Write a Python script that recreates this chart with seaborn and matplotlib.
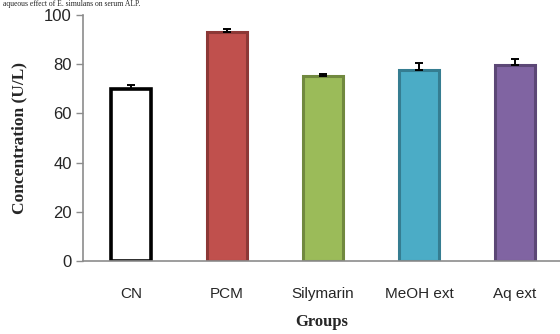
import matplotlib
matplotlib.use("Agg")
import matplotlib.pyplot as plt
import seaborn as sns
import pandas as pd

groups = ["CN", "PCM", "Silymarin", "MeOH ext", "Aq ext"]
means = [70.0, 93.0, 75.0, 77.5, 79.5]
errors = [1.5, 1.5, 1.0, 3.0, 2.8]
fills = ["#FFFFFF", "#C0504D", "#9BBB59", "#4BACC6", "#8064A2"]
edges = ["#000000", "#8C3836", "#71893F", "#357D91", "#5C4776"]
yticks = [0, 20, 40, 60, 80, 100]

sns.set_theme(style="white")
sans = ["Liberation Sans", "DejaVu Sans"]
serif = ["Liberation Serif", "DejaVu Serif"]

df = pd.DataFrame({"group": groups, "value": means})

fig = plt.figure(figsize=(5.6, 3.34), dpi=100)
ax = fig.add_axes([0.148, 0.219, 0.852, 0.736])

sns.barplot(data=df, x="group", y="value", hue="group", palette=fills,
            saturation=1, legend=False, errorbar=None, width=0.41, ax=ax,
            zorder=2)

for patch, ec in zip(ax.patches, edges):
    patch.set_edgecolor(ec)
    patch.set_linewidth(2.6 if ec == "#000000" else 2.2)

ax.errorbar(range(len(groups)), means, yerr=[[0] * len(groups), errors],
            fmt="none", ecolor="black", elinewidth=1.4, capsize=3,
            capthick=1.4, zorder=3)

ax.set_ylim(0, 100)
ax.set_xlim(-0.5, 4.47)
ax.set_yticks(yticks)
ax.set_yticklabels([str(t) for t in yticks], family=sans, fontsize=12)
ax.set_xticks(range(len(groups)))
ax.set_xticklabels(groups, family=sans, fontsize=11)
ax.tick_params(axis="y", left=True, length=5, width=1, color="#8C8C8C",
               pad=3, direction="out")
ax.tick_params(axis="x", bottom=False, pad=13)

for side in ["top", "right"]:
    ax.spines[side].set_visible(False)
for side in ["left", "bottom"]:
    ax.spines[side].set_color("#8C8C8C")
    ax.spines[side].set_linewidth(1.2)

ax.set_ylabel("Concentration (U/L)", family=serif, fontweight="bold",
              fontsize=12.5, labelpad=12)
ax.set_xlabel("Groups", family=serif, fontweight="bold", fontsize=12,
              labelpad=9)

fig.text(0.005, 0.999, "aqueous effect of E. simulans on serum ALP.",
         family=serif, fontsize=5.5, va="top", ha="left")

fig.savefig("out.png", dpi=100)
